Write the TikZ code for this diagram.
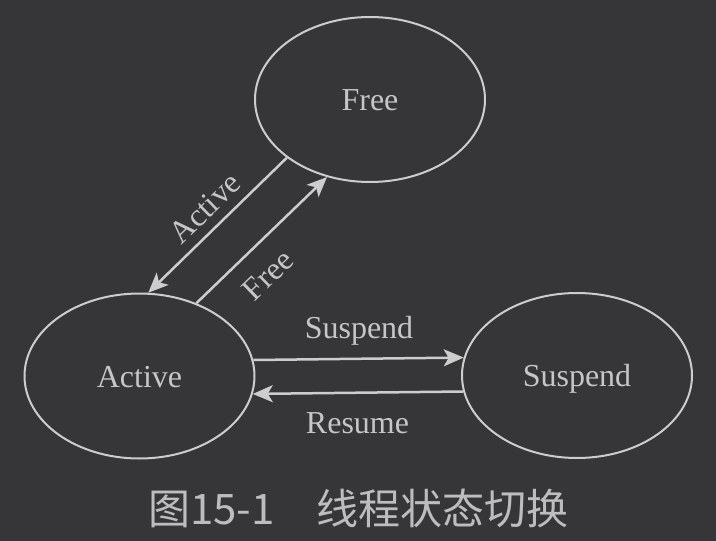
\documentclass[tikz,border=0pt]{standalone}
\usepackage{fontspec}
\setmainfont{Liberation Serif}
\newfontfamily\cjk{Noto Sans CJK SC}
\usetikzlibrary{arrows.meta,shapes.geometric}
\definecolor{bg}{HTML}{363638}
\definecolor{fg}{HTML}{CDCDCD}
\definecolor{txt}{HTML}{C6C6C6}
\definecolor{captxt}{HTML}{BDBDBD}
\begin{document}
\begin{tikzpicture}[x=1pt,y=-1pt,
  state/.style={ellipse, draw=fg, line width=2pt, minimum width=230pt, minimum height=165pt, inner sep=0pt, text=txt, text height=22pt, text depth=0pt, font=\fontsize{32}{32}\selectfont},
  arr/.style={draw=fg, line width=2.5pt, -{Stealth[length=20pt,width=17pt,inset=5pt]}},
  lbl/.style={text=txt, font=\fontsize{32}{32}\selectfont, inner sep=0pt}]
\fill[bg] (0,0) rectangle (716,541);
\useasboundingbox (0,0) rectangle (716,541);
\node[state] (free) at (370,99.5) {Free};
\node[state] (active) at (139.5,376) {Active};
\node[state] (suspend) at (577,375.5) {Suspend};
\draw[arr] (free.215) -- (active.84);
\draw[arr] (active.52) -- (free.241.5);
\draw[arr] (active.8.6) -- (suspend.171.6);
\draw[arr] (suspend.188.6) -- (active.351.4);
\node[lbl, rotate=44] (lactive) at (205,208) {Active};
\node[lbl, rotate=44] (lfree) at (268,275) {Free};
\node[lbl, anchor=base] (lsusp) at (359,338) {Suspend};
\node[lbl, anchor=base] (lres) at (357.5,433) {Resume};
\node[text=captxt, inner sep=0pt, font=\cjk\fontsize{42}{42}\selectfont] (cap) at (358.5,508) {图15-1　线程状态切换};
\end{tikzpicture}
\end{document}
